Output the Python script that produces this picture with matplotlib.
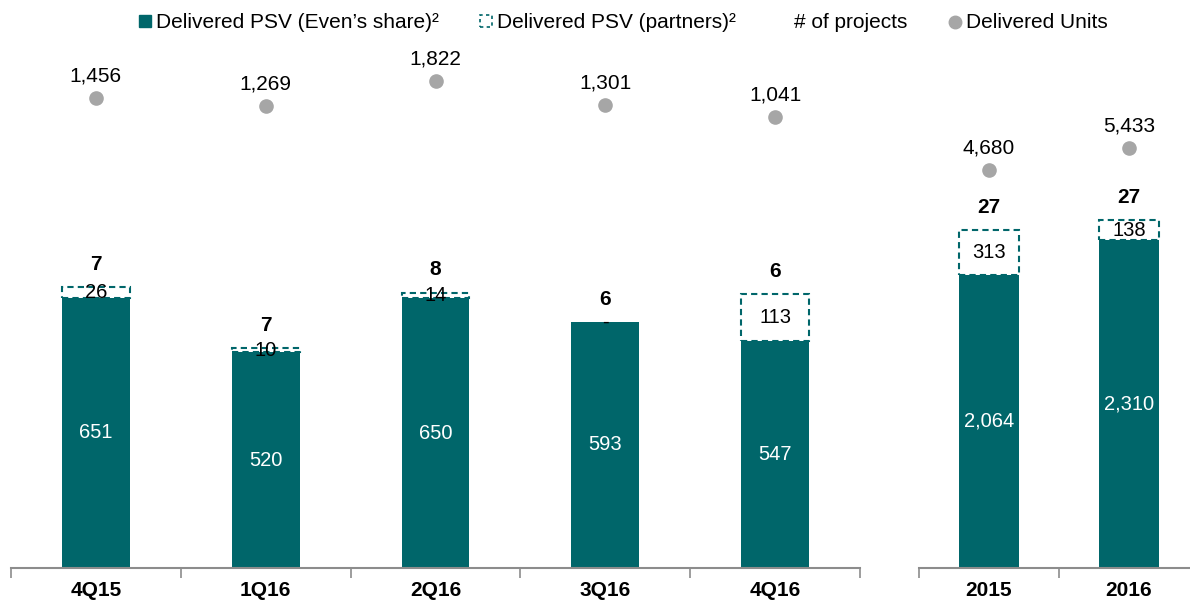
import matplotlib.pyplot as plt
from matplotlib.patches import Patch
from matplotlib.lines import Line2D

plt.rcParams['font.family'] = ['Liberation Sans', 'DejaVu Sans']

# quarterly data
q_labels = ['4Q15', '1Q16', '2Q16', '3Q16', '4Q16']
q_even = [651, 520, 650, 593, 547]
q_partners = [26, 10, 14, 0, 113]
q_projects = [7, 7, 8, 6, 6]
q_units = [1456, 1269, 1822, 1301, 1041]

# annual data
y_labels = ['2015', '2016']
y_even = [2064, 2310]
y_partners = [313, 138]
y_projects = [27, 27]
y_units = [4680, 5433]

teal = '#00666A'
grey = '#A6A6A6'
W, H = 1190, 600

fig = plt.figure(figsize=(11.9, 6), dpi=100)


def panel(rect, labels, even, partners, projects, units, ylim, ylim2, width):
    ax = fig.add_axes(rect)
    x = list(range(len(labels)))
    ax.bar(x, even, width=width, color=teal, zorder=2)
    for i in x:
        top = even[i] + partners[i]
        if partners[i] > 0:
            ax.bar(i, partners[i], bottom=even[i], width=width, fill=False,
                   edgecolor=teal, linestyle=(0, (3, 2)), linewidth=1.5, zorder=3)
        ax.text(i, even[i] / 2, f'{even[i]:,}', ha='center', va='center',
                color='white', fontsize=14.5)
        ax.text(i, even[i] + partners[i] / 2, f'{partners[i]:,}' if partners[i] else '-',
                ha='center', va='center', color='black', fontsize=14.5, zorder=4)
        ax.annotate(str(projects[i]), (i, top), xytext=(0, 16.5),
                    textcoords='offset points', ha='center', va='center',
                    fontsize=15, fontweight='bold')
    ax.set_xlim(-0.5, len(labels) - 0.5)
    ax.set_ylim(*ylim)
    for s in ['left', 'right', 'top']:
        ax.spines[s].set_visible(False)
    ax.spines['bottom'].set_color('#8C8C8C')
    ax.spines['bottom'].set_linewidth(1.5)
    ax.set_yticks([])
    ax.set_xticks(x)
    ax.set_xticklabels(labels, fontsize=15, fontweight='bold')
    ax.tick_params(axis='x', which='major', length=0, pad=9)
    ax.set_xticks([i - 0.5 for i in range(len(labels) + 1)], minor=True)
    ax.tick_params(axis='x', which='minor', length=7, width=1.2, color='#8C8C8C')

    ax2 = ax.twinx()
    ax2.plot(x, units, 'o', color=grey, markersize=9.5, linestyle='none')
    for i in x:
        ax2.annotate(f'{units[i]:,}', (i, units[i]), xytext=(0, 16),
                     textcoords='offset points', ha='center', va='center', fontsize=15)
    ax2.set_ylim(*ylim2)
    ax2.set_yticks([])
    for s in ax2.spines.values():
        s.set_visible(False)
    return ax


panel([11 / W, 32 / H, 849 / W, 568 / H], q_labels, q_even, q_partners,
      q_projects, q_units, (0, 1369), (-8742, 3579), 0.4)
panel([919 / W, 32 / H, 280 / W, 568 / H], y_labels, y_even, y_partners,
      y_projects, y_units, (0, 4000), (-8949, 10503), 0.435)

handles = [
    Patch(facecolor=teal, edgecolor=teal),
    Patch(facecolor='none', edgecolor=teal, linestyle=(0, (2, 2)), linewidth=1.2),
    Line2D([], [], linestyle='none'),
    Line2D([], [], marker='o', color=grey, linestyle='none', markersize=9),
]
names = ['Delivered PSV (Even\u2019s share)\u00b2', 'Delivered PSV (partners)\u00b2',
         '# of projects', 'Delivered Units']
fig.legend(handles, names, loc='center', bbox_to_anchor=(0.524, 1 - 23 / H), ncol=4,
           frameon=False, fontsize=15, handlelength=0.55, handleheight=0.55,
           handletextpad=0.25, columnspacing=2.0)

fig.savefig('out.png', dpi=100)
